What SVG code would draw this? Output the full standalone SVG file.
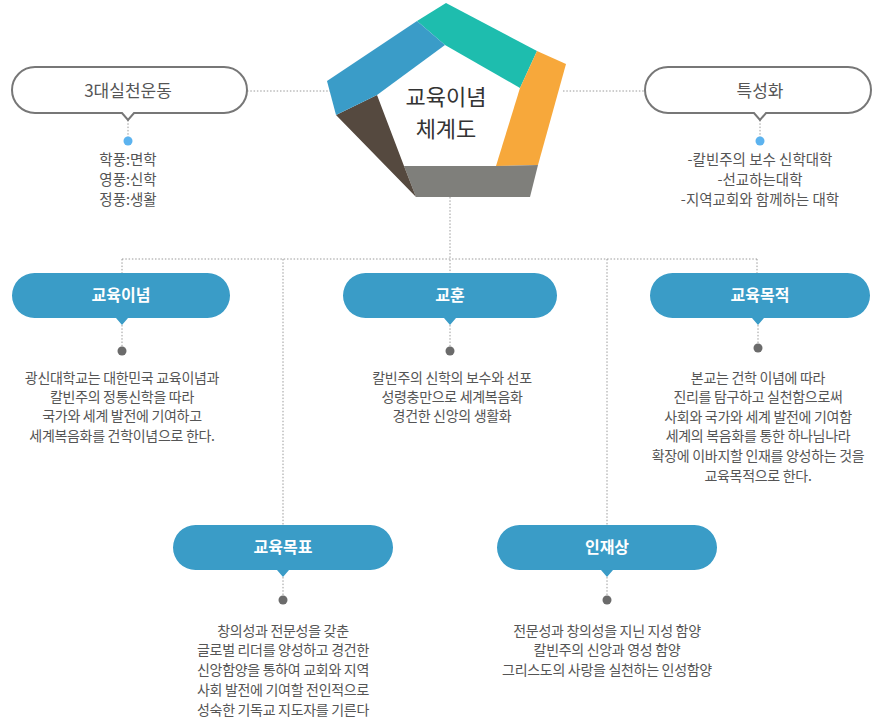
<svg xmlns="http://www.w3.org/2000/svg" width="873" height="720" viewBox="0 0 873 720">
<style>
.dot{fill:none;stroke:#9a9a9a;stroke-width:1;stroke-dasharray:1.5 1.8}
.body{font-family:"Noto Sans CJK KR","Noto Sans",sans-serif;font-size:14px;fill:#555;text-anchor:middle;letter-spacing:-0.3px}
.top{font-family:"Noto Sans CJK KR","Noto Sans",sans-serif;font-size:14.5px;fill:#555;text-anchor:middle}
.lbl{font-family:"Noto Sans CJK KR","Noto Sans",sans-serif;font-size:16px;font-weight:bold;fill:#fff;text-anchor:middle}
.olbl{font-family:"Noto Sans CJK KR","Noto Sans",sans-serif;font-size:17px;fill:#555;text-anchor:middle}
.ttl{font-family:"Noto Sans CJK KR","Noto Sans",sans-serif;font-size:22px;fill:#333;text-anchor:middle}
.bb{fill:#3a9cc7}
.ob{fill:#fff;stroke:#777;stroke-width:2}
.bdot{fill:#5cb3ef}
.gdot{fill:#6b6b6b}
</style>
<g id="connectors">
<path class="dot" d="M247,91 H330"/>
<path class="dot" d="M563,91 H645"/>
<path class="dot" d="M128,120 V138"/>
<path class="dot" d="M760,120 V138"/>
<path class="dot" d="M450,197 V273"/>
<path class="dot" d="M122,259 H757"/>
<path class="dot" d="M122,259 V273"/>
<path class="dot" d="M757,259 V273"/>
<path class="dot" d="M283,259 V525"/>
<path class="dot" d="M607,259 V525"/>
<path class="dot" d="M122,325 V348"/>
<path class="dot" d="M450,325 V348"/>
<path class="dot" d="M758,325 V346"/>
<path class="dot" d="M283,577 V597"/>
<path class="dot" d="M607,577 V597"/>
</g>
<g id="pentagon">
<polygon points="417,21 446,3 537,51 520,88 445,45" fill="#1ebdae"/>
<polygon points="537,51 566,64 538,165 496,166 520,88" fill="#f7a83b"/>
<polygon points="496,166 538,165 530,197 416,197 404,166" fill="#7f7f7b"/>
<polygon points="336,115 377,95 404,166 416,197" fill="#55493f"/>
<polygon points="327,81 417,21 445,45 377,95 336,115" fill="#3a9cc8"/>
<text class="ttl" x="446" y="105">교육이념</text>
<text class="ttl" x="446" y="137">체계도</text>
</g>
<g id="practice">
<path class="ob" d="M35,67 H224 A23 23 0 0 1 224,113 H134 L128,120 L122,113 H35 A23 23 0 0 1 35,67 Z"/>
<text class="olbl" x="128" y="97">3대실천운동</text>
<circle class="bdot" cx="128" cy="141" r="4.5"/>
<text class="top" x="128" y="165">학풍:면학</text>
<text class="top" x="128" y="185">영풍:신학</text>
<text class="top" x="128" y="205">정풍:생활</text>
</g>
<g id="special">
<path class="ob" d="M668,67 H848 A23 23 0 0 1 848,113 H766 L760,120 L754,113 H668 A23 23 0 0 1 668,67 Z"/>
<text class="olbl" x="760" y="97">특성화</text>
<circle class="bdot" cx="760" cy="141" r="4.5"/>
<text class="top" x="760" y="165">-칼빈주의 보수 신학대학</text>
<text class="top" x="760" y="185">-선교하는대학</text>
<text class="top" x="760" y="205">-지역교회와 함께하는 대학</text>
</g>
<g id="ideology">
<path class="bb" d="M34.5,273 H207.5 A22.5 22.5 0 0 1 207.5,318 H128 L122,325 L116,318 H34.5 A22.5 22.5 0 0 1 34.5,273 Z"/>
<text class="lbl" x="121" y="301">교육이념</text>
<circle class="gdot" cx="122" cy="351" r="4.5"/>
<text class="body" x="122" y="383">광신대학교는 대한민국 교육이념과</text>
<text class="body" x="122" y="402">칼빈주의 정통신학을 따라</text>
<text class="body" x="122" y="421">국가와 세계 발전에 기여하고</text>
<text class="body" x="122" y="441">세계복음화를 건학이념으로 한다.</text>
</g>
<g id="motto">
<path class="bb" d="M365.5,273 H534.5 A22.5 22.5 0 0 1 534.5,318 H456 L450,325 L444,318 H365.5 A22.5 22.5 0 0 1 365.5,273 Z"/>
<text class="lbl" x="450" y="301">교훈</text>
<circle class="gdot" cx="450" cy="351" r="4.5"/>
<text class="body" x="452" y="383">칼빈주의 신학의 보수와 선포</text>
<text class="body" x="452" y="402">성령충만으로 세계복음화</text>
<text class="body" x="452" y="421">경건한 신앙의 생활화</text>
</g>
<g id="purpose">
<path class="bb" d="M672.5,273 H847.5 A22.5 22.5 0 0 1 847.5,318 H764 L758,325 L752,318 H672.5 A22.5 22.5 0 0 1 672.5,273 Z"/>
<text class="lbl" x="760" y="301">교육목적</text>
<circle class="gdot" cx="758" cy="348" r="4.5"/>
<text class="body" x="758" y="383">본교는 건학 이념에 따라</text>
<text class="body" x="758" y="402">진리를 탐구하고 실천함으로써</text>
<text class="body" x="758" y="422">사회와 국가와 세계 발전에 기여함</text>
<text class="body" x="758" y="441">세계의 복음화를 통한 하나님나라</text>
<text class="body" x="758" y="461">확장에 이바지할 인재를 양성하는 것을</text>
<text class="body" x="758" y="481">교육목적으로 한다.</text>
</g>
<g id="goal">
<path class="bb" d="M195.5,525 H370.5 A22.5 22.5 0 0 1 370.5,570 H289 L283,577 L277,570 H195.5 A22.5 22.5 0 0 1 195.5,525 Z"/>
<text class="lbl" x="283" y="553">교육목표</text>
<circle class="gdot" cx="283" cy="600" r="4.5"/>
<text class="body" x="283" y="636">창의성과 전문성을 갖춘</text>
<text class="body" x="283" y="655">글로벌 리더를 양성하고 경건한</text>
<text class="body" x="283" y="675">신앙함양을 통하여 교회와 지역</text>
<text class="body" x="283" y="695">사회 발전에 기여할 전인적으로</text>
<text class="body" x="283" y="715">성숙한 기독교 지도자를 기른다</text>
</g>
<g id="talent">
<path class="bb" d="M519.5,525 H694.5 A22.5 22.5 0 0 1 694.5,570 H613 L607,577 L601,570 H519.5 A22.5 22.5 0 0 1 519.5,525 Z"/>
<text class="lbl" x="607" y="553">인재상</text>
<circle class="gdot" cx="607" cy="600" r="4.5"/>
<text class="body" x="607" y="636">전문성과 창의성을 지닌 지성 함양</text>
<text class="body" x="607" y="655">칼빈주의 신앙과 영성 함양</text>
<text class="body" x="607" y="675">그리스도의 사랑을 실천하는 인성함양</text>
</g>
</svg>
